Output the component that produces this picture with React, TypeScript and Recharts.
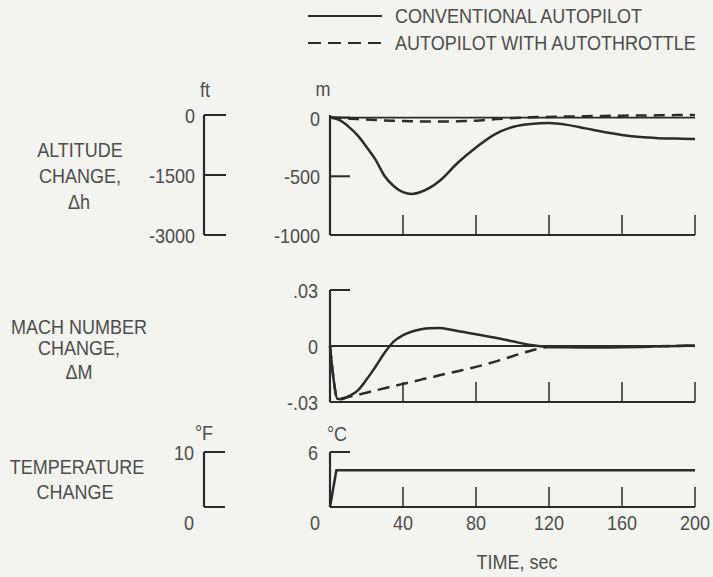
import { LineChart, Line, XAxis, YAxis, ReferenceLine } from 'recharts'

const INK = '#2b2b2b'
const TEXT = '#4d4d4d'
const BG = '#f3f3f0'
const FONT = "'Liberation Sans', Arial, sans-serif"
const SQUEEZE = 0.9

const TIME_TICKS = [0, 40, 80, 120, 160, 200]

// altitude change, m
const altTime = [0, 5, 10, 15, 20, 25, 30, 35, 40, 45, 50, 55, 60, 70, 80, 90, 100, 110, 120, 130, 140, 150, 160, 170, 180, 190, 200]
const altConventional = [0, -20, -75, -150, -250, -360, -500, -585, -635, -650, -632, -595, -540, -385, -255, -145, -80, -54, -47, -62, -92, -123, -148, -166, -175, -179, -182]
const altAutothrottle = [0, -3, -8, -13, -17, -21, -25, -28, -30, -32, -33, -34, -34, -32, -26, -14, -4, 2, 6, 9, 12, 14, 16, 18, 19, 21, 22]

// mach number change
const machTime = [0, 2, 4, 6, 8, 10, 15, 20, 25, 30, 35, 40, 45, 50, 55, 60, 65, 70, 80, 90, 100, 110, 120, 130, 140, 150, 160, 170, 180, 190, 200]
const machConventional = [0, -0.018, -0.0283, -0.0285, -0.028, -0.027, -0.024, -0.018, -0.011, -0.0035, 0.0025, 0.0058, 0.0078, 0.009, 0.0095, 0.0096, 0.009, 0.008, 0.0063, 0.0045, 0.0025, 0.0005, -0.0005, -0.0007, -0.0008, -0.0008, -0.0007, -0.0005, -0.0002, 0, 0.0003]
const machAutothrottle = [0, -0.018, -0.0283, -0.0282, -0.0278, -0.0273, -0.0262, -0.025, -0.0238, -0.0226, -0.0214, -0.0203, -0.0192, -0.018, -0.0169, -0.0157, -0.0146, -0.0135, -0.0112, -0.0085, -0.0055, -0.0025, -0.0005, -0.0004, -0.0003, -0.0003, -0.0002, -0.0002, -0.0001, 0, 0.0002]

// temperature change, deg C
const tempTime = [0, 3.5, 40, 80, 120, 160, 200]
const tempChange = [0, 4, 4, 4, 4, 4, 4]

const altTicksM = [0, -500, -1000]
const altTicksFt = [0, -1500, -3000]
const machTicks = [0.03, 0, -0.03]
const machTickLabels = ['.03', '0', '-.03']
const tempTicksC = [0, 6]
const tempTicksF = [0, 10]

const altData = altTime.map((t, i) => ({ t, conv: altConventional[i], auto: altAutothrottle[i] }))
const machData = machTime.map((t, i) => ({ t, conv: machConventional[i], auto: machAutothrottle[i] }))
const tempData = tempTime.map((t, i) => ({ t, temp: tempChange[i] }))

const textStyle = { fontFamily: FONT, fontSize: 20, fill: TEXT }

function Label({ x, y, anchor = 'start', children }: { x: number; y: number; anchor?: 'start' | 'middle' | 'end'; children: any }) {
  return (
    <text transform={`translate(${x},${y}) scale(${SQUEEZE},1)`} textAnchor={anchor} style={textStyle}>
      {children}
    </text>
  )
}

const makeXTick = (showLabels: boolean) => (props: any) => {
  const { x, y, payload } = props
  return (
    <g>
      <line x1={x} y1={y} x2={x} y2={y - 20} stroke={INK} strokeWidth={1.5} />
      {showLabels && payload.value !== 0 && (
        <Label x={x} y={y + 23} anchor="middle">
          {payload.value}
        </Label>
      )}
    </g>
  )
}

const makeYTick = (len: number, gap: number, format: (v: number) => string, dropZero = false) => (props: any) => {
  const { x, y, payload } = props
  const v = payload.value
  const drop = dropZero && v === 0
  return (
    <g>
      <line x1={x} y1={y} x2={x + len} y2={y} stroke={INK} strokeWidth={2} />
      <Label x={drop ? x - 15 : x - gap} y={drop ? y + 23 : y + 8} anchor={drop ? 'middle' : 'end'}>
        {format(v)}
      </Label>
    </g>
  )
}

const axisLine = { stroke: INK, strokeWidth: 2.2 }

const timeAxis = (showLabels: boolean) => (
  <XAxis
    dataKey="t"
    type="number"
    domain={[0, 200]}
    ticks={TIME_TICKS}
    interval={0}
    height={1}
    tickSize={0}
    tickMargin={0}
    axisLine={axisLine}
    tick={makeXTick(showLabels)}
  />
)

function AltitudePanel() {
  return (
    <LineChart width={713} height={175} data={altData} margin={{ top: 35, right: 18, bottom: 19, left: 0 }}>
      {timeAxis(false)}
      <YAxis
        yAxisId="a"
        type="number"
        domain={[-1000, 0]}
        ticks={altTicksM}
        interval={0}
        width={126}
        tickSize={0}
        tickMargin={0}
        axisLine={axisLine}
        tick={makeYTick(20, 10, (v) => String(v))}
      />
      <YAxis
        yAxisId="b"
        type="number"
        domain={[-3000, 0]}
        allowDataOverflow
        ticks={altTicksFt}
        interval={0}
        width={204}
        tickSize={0}
        tickMargin={0}
        axisLine={axisLine}
        tick={makeYTick(22, 9, (v) => String(v))}
      />
      <ReferenceLine yAxisId="a" y={0} stroke={INK} strokeWidth={1.8} />
      <Line yAxisId="a" dataKey="conv" type="monotone" stroke={INK} strokeWidth={2.5} dot={false} isAnimationActive={false} />
      <Line yAxisId="a" dataKey="auto" type="monotone" stroke={INK} strokeWidth={2.5} strokeDasharray="11 7" dot={false} isAnimationActive={false} />
    </LineChart>
  )
}

function MachPanel() {
  return (
    <LineChart width={713} height={172} data={machData} margin={{ top: 40, right: 18, bottom: 19, left: 0 }}>
      {timeAxis(false)}
      <YAxis
        type="number"
        domain={[-0.03, 0.03]}
        ticks={machTicks}
        interval={0}
        width={330}
        tickSize={0}
        tickMargin={0}
        axisLine={axisLine}
        tick={makeYTick(20, 12, (v) => machTickLabels[machTicks.indexOf(v)] ?? String(v))}
      />
      <ReferenceLine y={0} stroke={INK} strokeWidth={1.8} />
      <Line dataKey="conv" type="monotone" stroke={INK} strokeWidth={2.5} dot={false} isAnimationActive={false} />
      <Line dataKey="auto" type="monotone" stroke={INK} strokeWidth={2.5} strokeDasharray="12 7" dot={false} isAnimationActive={false} />
    </LineChart>
  )
}

function TemperaturePanel() {
  return (
    <LineChart width={713} height={135} data={tempData} margin={{ top: 40, right: 18, bottom: 39, left: 0 }}>
      {timeAxis(true)}
      <YAxis
        yAxisId="a"
        type="number"
        domain={[0, 6]}
        ticks={tempTicksC}
        interval={0}
        width={126}
        tickSize={0}
        tickMargin={0}
        axisLine={axisLine}
        tick={makeYTick(20, 12, (v) => String(v), true)}
      />
      <YAxis
        yAxisId="b"
        type="number"
        domain={[0, 10]}
        allowDataOverflow
        ticks={tempTicksF}
        interval={0}
        width={204}
        tickSize={0}
        tickMargin={0}
        axisLine={axisLine}
        tick={makeYTick(21, 10, (v) => String(v), true)}
      />
      <Line yAxisId="a" dataKey="temp" type="linear" stroke={INK} strokeWidth={2.5} dot={false} isAnimationActive={false} />
    </LineChart>
  )
}

export default function App() {
  return (
    <div style={{ position: 'absolute', left: 0, top: 0, width: 713, height: 577, background: BG, overflow: 'hidden' }}>
      <div style={{ position: 'absolute', left: 0, top: 80 }}>
        <AltitudePanel />
      </div>
      <div style={{ position: 'absolute', left: 0, top: 250 }}>
        <MachPanel />
      </div>
      <div style={{ position: 'absolute', left: 0, top: 412 }}>
        <TemperaturePanel />
      </div>
      <svg width={713} height={577} style={{ position: 'absolute', left: 0, top: 0, pointerEvents: 'none' }}>
        {/* legend */}
        <line x1={308} y1={16} x2={382} y2={16} stroke={INK} strokeWidth={2} />
        <Label x={395} y={23}>CONVENTIONAL AUTOPILOT</Label>
        <line x1={308} y1={43} x2={382} y2={43} stroke={INK} strokeWidth={2} strokeDasharray="13 7" />
        <Label x={395} y={50}>AUTOPILOT WITH AUTOTHROTTLE</Label>

        {/* units */}
        <Label x={205} y={97} anchor="middle">ft</Label>
        <Label x={323} y={96} anchor="middle">m</Label>
        <Label x={204} y={440} anchor="middle">°F</Label>
        <Label x={337} y={441} anchor="middle">°C</Label>

        {/* quantity labels */}
        <Label x={80} y={157} anchor="middle">ALTITUDE</Label>
        <Label x={80} y={183} anchor="middle">CHANGE,</Label>
        <Label x={79} y={209} anchor="middle">Δh</Label>
        <Label x={79} y={334} anchor="middle">MACH NUMBER</Label>
        <Label x={79} y={355} anchor="middle">CHANGE,</Label>
        <Label x={79} y={379} anchor="middle">ΔM</Label>
        <Label x={77} y={474} anchor="middle">TEMPERATURE</Label>
        <Label x={75} y={499} anchor="middle">CHANGE</Label>

        <Label x={517} y={569} anchor="middle">TIME, sec</Label>
      </svg>
    </div>
  )
}
